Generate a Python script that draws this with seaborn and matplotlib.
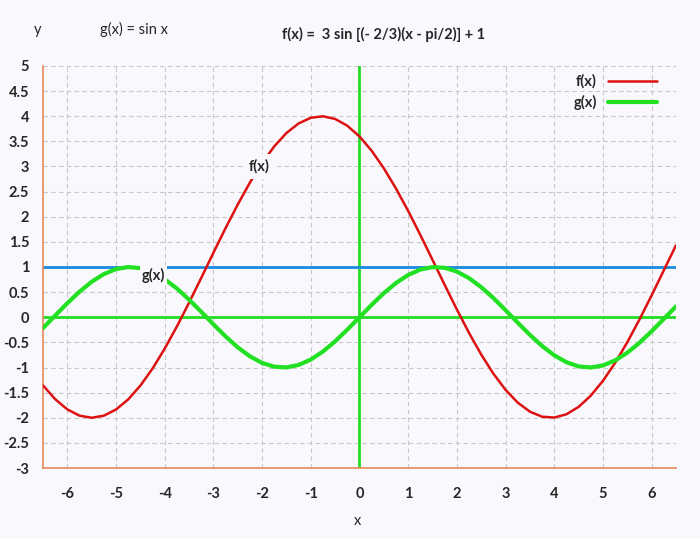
import matplotlib
matplotlib.use("Agg")
import matplotlib.pyplot as plt
import seaborn as sns
import pandas as pd

# x samples (step 0.25) and curve values
x_vals = [-6.5, -6.25, -6.0, -5.75, -5.5, -5.25, -5.0, -4.75, -4.5, -4.25,
          -4.0, -3.75, -3.5, -3.25, -3.0, -2.75, -2.5, -2.25, -2.0, -1.75,
          -1.5, -1.25, -1.0, -0.75, -0.5, -0.25, 0.0, 0.25, 0.5, 0.75,
          1.0, 1.25, 1.5, 1.75, 2.0, 2.25, 2.5, 2.75, 3.0, 3.25,
          3.5, 3.75, 4.0, 4.25, 4.5, 4.75, 5.0, 5.25, 5.5, 5.75,
          6.0, 6.25, 6.5]
f_vals = [-1.355, -1.630, -1.834, -1.958, -2.000, -1.959, -1.836, -1.635, -1.361, -1.021,
          -0.624, -0.184, 0.290, 0.783, 1.283, 1.774, 2.244, 2.680, 3.069, 3.401,
          3.666, 3.857, 3.969, 3.999, 3.946, 3.811, 3.598, 3.313, 2.964, 2.561,
          2.115, 1.637, 1.142, 0.643, 0.154, -0.312, -0.742, -1.123, -1.445, -1.699,
          -1.879, -1.979, -1.996, -1.931, -1.784, -1.560, -1.265, -0.907, -0.497, -0.045,
          0.436, 0.933, 1.432]
g_vals = [-0.215, 0.033, 0.279, 0.508, 0.706, 0.859, 0.959, 0.999, 0.978, 0.895,
          0.757, 0.572, 0.351, 0.108, -0.141, -0.382, -0.599, -0.778, -0.909, -0.984,
          -0.998, -0.949, -0.842, -0.682, -0.479, -0.247, 0.0, 0.247, 0.479, 0.682,
          0.842, 0.949, 0.998, 0.984, 0.909, 0.778, 0.599, 0.382, 0.141, -0.108,
          -0.351, -0.572, -0.757, -0.895, -0.978, -0.999, -0.959, -0.859, -0.706, -0.508,
          -0.279, -0.033, 0.215]
y_line = 1.0

x_ticks = [-6, -5, -4, -3, -2, -1, 0, 1, 2, 3, 4, 5, 6]
y_ticks = [-3, -2.5, -2, -1.5, -1, -0.5, 0, 0.5, 1, 1.5, 2, 2.5, 3, 3.5, 4, 4.5, 5]

df = pd.DataFrame({"x": x_vals, "f": f_vals, "g": g_vals})

sns.set_style("white")
plt.rcParams["font.family"] = ["Lato", "DejaVu Sans"]
plt.rcParams["axes.unicode_minus"] = False

bg = "#f9f9fd"
fig = plt.figure(figsize=(7, 5.39), dpi=100, facecolor=bg)
ax = fig.add_axes([0.0614, 0.1317, 0.9043, 0.7459], facecolor=bg)

ax.set_xlim(-6.5, 6.5)
ax.set_ylim(-3, 5)

# reference lines
ax.axhline(0, color="#22dd22", lw=2, zorder=2)
ax.axvline(0, color="#22dd22", lw=2, zorder=2)
ax.axhline(y_line, color="#1a8ae0", lw=2, zorder=2)

sns.lineplot(data=df, x="x", y="f", ax=ax, color="#dd1111", lw=1.8, label="f(x)", zorder=3)
sns.lineplot(data=df, x="x", y="g", ax=ax, color="#22e022", lw=3, label="g(x)", zorder=3)

# curve labels
ax.text(-2.07, 3.0, "f(x)", ha="center", va="center", fontsize=10.5, fontweight="bold",
        bbox=dict(facecolor=bg, edgecolor="none", pad=4), zorder=4)
ax.text(-4.23, 0.84, "g(x)", ha="center", va="center", fontsize=10.5, fontweight="bold",
        bbox=dict(facecolor=bg, edgecolor="none", pad=1.5), zorder=4)

ax.set_xticks(x_ticks)
ax.set_yticks(y_ticks)
ax.set_yticklabels([f"{t:g}" for t in y_ticks])
ax.tick_params(length=0, labelsize=10.5, pad=14)
for lab in ax.get_xticklabels() + ax.get_yticklabels():
    lab.set_fontweight("bold")
ax.tick_params(axis="y", pad=10)
ax.grid(True, color="#c8c8c8", ls=(0, (4, 3)), lw=0.8)

for s in ["top", "right"]:
    ax.spines[s].set_visible(False)
for s in ["left", "bottom"]:
    ax.spines[s].set_color("#e8885a")
    ax.spines[s].set_linewidth(1.2)

ax.set_xlabel("")
ax.set_ylabel("")
fig.text(357 / 700, 1 - 521 / 539, "x", ha="center", va="center", fontsize=10.5)
fig.text(38 / 700, 1 - 30 / 539, "y", ha="center", va="center", fontsize=10.5)
fig.text(100 / 700, 1 - 29 / 539, "g(x) = sin x", ha="left", va="center", fontsize=10.5)
fig.text(282 / 700, 1 - 34 / 539, "f(x) =  3 sin [(- 2/3)(x - pi/2)] + 1", ha="left",
         va="center", fontsize=10.5, fontweight="bold")

leg = ax.legend(loc="upper right", bbox_to_anchor=(0.99, 1.012), frameon=False,
                markerfirst=False, fontsize=10.5, handlelength=3.3, labelspacing=0.4)
for t in leg.get_texts():
    t.set_fontweight("bold")

plt.savefig("out.png", dpi=100, facecolor=bg)
